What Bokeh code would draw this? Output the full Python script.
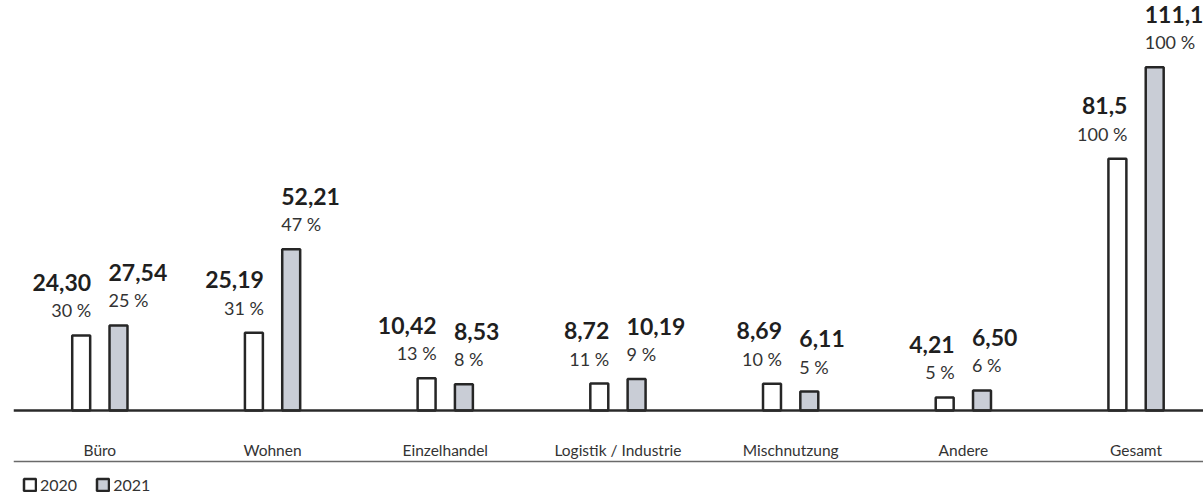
from bokeh.plotting import figure
from bokeh.models import Range1d, Span, Legend, LegendItem, ColumnDataSource
from bokeh.core.properties import value
from bokeh.embed import file_html
from bokeh.resources import INLINE

categories = ["Büro", "Wohnen", "Einzelhandel", "Logistik / Industrie",
              "Mischnutzung", "Andere", "Gesamt"]
values_2020 = [24.30, 25.19, 10.42, 8.72, 8.69, 4.21, 81.5]
values_2021 = [27.54, 52.21, 8.53, 10.19, 6.11, 6.50, 111.1]
labels_2020 = ["24,30", "25,19", "10,42", "8,72", "8,69", "4,21", "81,5"]
labels_2021 = ["27,54", "52,21", "8,53", "10,19", "6,11", "6,50", "111,1"]
pct_2020 = ["30 %", "31 %", "13 %", "11 %", "10 %", "5 %", "100 %"]
pct_2021 = ["25 %", "47 %", "8 %", "9 %", "5 %", "6 %", "100 %"]
series = ["2020", "2021"]

# layout constants (pixels)
CAT_PX = 172.7
PX_PER_UNIT = 3.09
FRAME_W = 1190
BASE_PX = 410          # baseline distance from top
BELOW_PX = 87          # frame extent below baseline
RULE_PX = 51           # lower rule distance below baseline
OFF = 0.108
BW = 0.104
FONT = "Lato"

xc = [i + 0.5 for i in range(len(categories))]
src = ColumnDataSource(dict(
    xc=xc,
    x20=[x - OFF for x in xc],
    x21=[x + OFF for x in xc],
    x20r=[x - OFF + BW / 2 for x in xc],
    x21l=[x + OFF - BW / 2 for x in xc],
    v20=values_2020, v21=values_2021,
    l20=labels_2020, l21=labels_2021,
    p20=pct_2020, p21=pct_2021,
    cat=categories, zero=[0] * len(categories),
))

p = figure(width=1203, height=497, output_backend="svg", toolbar_location=None,
           x_range=Range1d(0, FRAME_W / CAT_PX),
           y_range=Range1d(-BELOW_PX / PX_PER_UNIT, BASE_PX / PX_PER_UNIT),
           x_axis_location=None, y_axis_location=None,
           min_border_left=13, min_border_right=0, min_border_top=0,
           min_border_bottom=0, outline_line_color=None,
           background_fill_color="white", border_fill_color="white")
p.grid.visible = False

r20 = p.vbar(x="x20", top="v20", bottom=0, width=BW, source=src,
             fill_color="white", line_color="#262626", line_width=2.5)
r21 = p.vbar(x="x21", top="v21", bottom=0, width=BW, source=src,
             fill_color="#c9cdd6", line_color="#262626", line_width=2.5)

p.add_layout(Span(location=0, dimension="width", line_color="#2a2a2a", line_width=2.5))
p.add_layout(Span(location=-RULE_PX / PX_PER_UNIT, dimension="width",
                  line_color="#6a6a6a", line_width=1.5))

common = dict(source=src, text_baseline="middle", text_font=value(FONT))
p.text(x="x20r", y="v20", text="l20", text_align="right", y_offset=-53, x_offset=1,
       text_font_style="bold", text_font_size="23px", text_color="#1f1f1f", **common)
p.text(x="x21l", y="v21", text="l21", text_align="left", y_offset=-53, x_offset=-1,
       text_font_style="bold", text_font_size="23px", text_color="#1f1f1f", **common)
p.text(x="x20r", y="v20", text="p20", text_align="right", y_offset=-25, x_offset=1,
       text_font_size="18px", text_color="#333333", **common)
p.text(x="x21l", y="v21", text="p21", text_align="left", y_offset=-25, x_offset=-1,
       text_font_size="18px", text_color="#333333", **common)
p.text(x="xc", y="zero", text="cat", text_align="center", y_offset=39,
       text_font_size="15.5px", text_color="#333333", **common)

legend = Legend(items=[LegendItem(label=series[0], renderers=[r20]),
                       LegendItem(label=series[1], renderers=[r21])],
                orientation="horizontal", location=(9, 3),
                glyph_width=15, glyph_height=15, label_height=15,
                label_standoff=3, spacing=18, padding=0, margin=0,
                border_line_color=None, background_fill_alpha=0,
                label_text_font=FONT, label_text_font_size="16px",
                label_text_color="#333333")
p.add_layout(legend)

open("out.html", "w").write(file_html(p, INLINE))
